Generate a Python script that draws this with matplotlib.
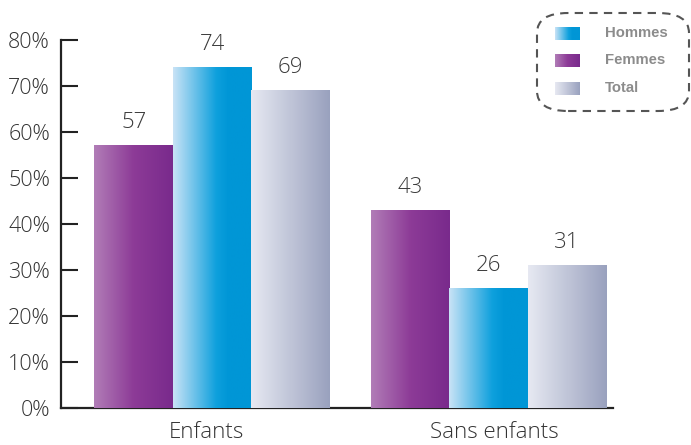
import numpy as np
import matplotlib
matplotlib.use("Agg")
import matplotlib.pyplot as plt
from matplotlib.colors import LinearSegmentedColormap
from matplotlib.patches import FancyBboxPatch
from matplotlib.transforms import ScaledTranslation

categories = ["Enfants", "Sans enfants"]
series_names = ["Femmes", "Hommes", "Total"]
femmes = [57, 43]
hommes = [74, 26]
total = [69, 31]
legend_order = ["Hommes", "Femmes", "Total"]
yticks = [0, 10, 20, 30, 40, 50, 60, 70, 80]
ytick_labels = ["0%", "10%", "20%", "30%", "40%", "50%", "60%", "70%", "80%"]

cmaps = {
    "Femmes": LinearSegmentedColormap.from_list("f", [(0, "#b17db7"), (0.5, "#8d3b97"), (1, "#792a8c")]),
    "Hommes": LinearSegmentedColormap.from_list("h", [(0, "#c9e3f6"), (0.55, "#0ea0dd"), (0.7, "#0096d6"), (1, "#0096d6")]),
    "Total": LinearSegmentedColormap.from_list("t", [(0, "#e7e9f2"), (1, "#99a1be")]),
}

plt.rcParams['font.family'] = ['Open Sans', 'DejaVu Sans']
fig = plt.figure(figsize=(6.91, 4.45), dpi=100)
ax = fig.add_axes([0.0883, 0.0831, 0.887 - 0.0883, 0.910 - 0.0831])

width = 0.284
grad = np.linspace(0, 1, 256).reshape(1, -1)
x = np.arange(len(categories))
data = {"Femmes": femmes, "Hommes": hommes, "Total": total}
offsets = {"Femmes": -width, "Hommes": 0.0, "Total": width}
for name in series_names:
    for i, v in enumerate(data[name]):
        cx = x[i] + offsets[name]
        x0, x1 = cx - width / 2, cx + width / 2
        ax.imshow(grad, cmap=cmaps[name], extent=(x0, x1, 0, v), aspect='auto',
                  zorder=3, interpolation='bilinear')
        ax.annotate(f"{v}", (cx, v), xytext=(0, 9), textcoords='offset points',
                    ha='center', va='bottom', fontsize=16, color='#3a3a3a',
                    fontweight='light', zorder=4)

ax.set_xlim(-0.547, 1.45)
ax.set_ylim(0, 80)
ax.set_yticks(yticks)
ax.set_yticklabels(ytick_labels, fontweight='light')
ax.set_xticks(x)
ax.set_xticklabels(categories, fontweight='light')
ax.tick_params(axis='y', direction='in', length=12, width=1.5, colors='#222222',
               labelcolor='#333333', labelsize=15.5, pad=8)
ax.tick_params(axis='x', length=0, labelcolor='#333333', labelsize=16, pad=10)
for lbl, dx in zip(ax.get_xticklabels(), [-6, 6]):
    lbl.set_transform(lbl.get_transform() + ScaledTranslation(dx / 100, 0, fig.dpi_scale_trans))
for s in ['top', 'right']:
    ax.spines[s].set_visible(False)
for s in ['left', 'bottom']:
    ax.spines[s].set_linewidth(1.6)
    ax.spines[s].set_color('#222222')
ax.spines['bottom'].set_zorder(2)
ax.set_facecolor('none')

# legend
lx0, lx1 = 537 / 691, 689 / 691
ly0, ly1 = 1 - 111 / 445, 1 - 13 / 445
box = FancyBboxPatch((lx0, ly0), lx1 - lx0, ly1 - ly0,
                     boxstyle="round,pad=0,rounding_size=0.045",
                     transform=fig.transFigure, fill=False, edgecolor='#555555',
                     linewidth=1.5, linestyle=(0, (4, 3)))
fig.patches.append(box)
rows_y = [33, 60, 88]
for name, yy in zip(legend_order, rows_y):
    lax = fig.add_axes([555 / 691, 1 - (yy + 7) / 445, 25 / 691, 13 / 445])
    lax.imshow(grad, cmap=cmaps[name], aspect='auto', extent=(0, 1, 0, 1))
    lax.axis('off')
    fig.text(605 / 691, 1 - yy / 445, name, ha='left', va='center',
             fontsize=10.7, fontweight='bold', color='#8c8c8c',
             family=['Liberation Sans', 'DejaVu Sans'])

fig.savefig("out.png", dpi=100)
